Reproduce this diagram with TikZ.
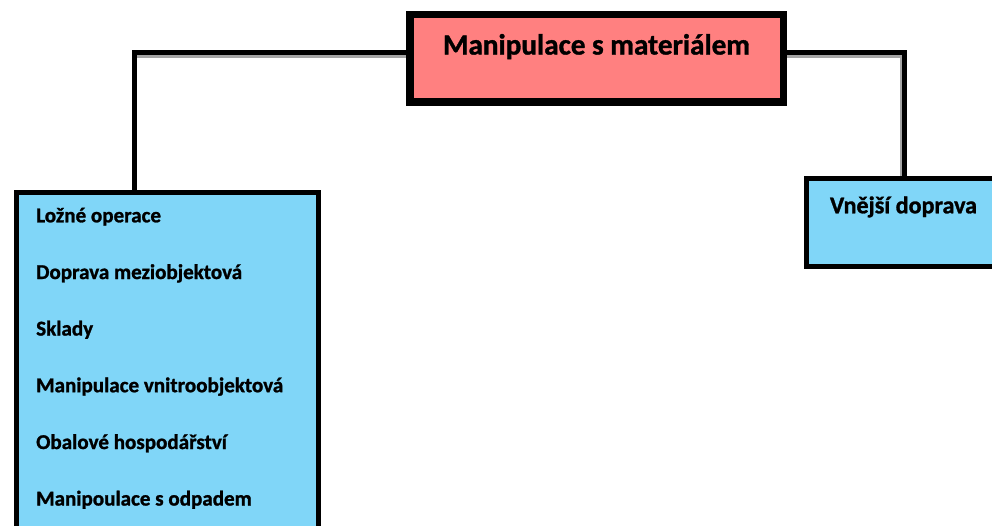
\documentclass[tikz,border=0pt]{standalone}
\usepackage{fontspec}
\setmainfont{Carlito}[BoldFeatures={FakeBold=1.2}]
\definecolor{rootpink}{RGB}{255,128,128}
\definecolor{leafblue}{RGB}{128,214,248}
\definecolor{shadowgray}{RGB}{165,165,165}
% font size (in pt) that sets a bold sample text to a given width
\newlength\samplewd
\newcommand\fitsize[3]{%
  \settowidth\samplewd{\bfseries\fontsize{10}{12}\selectfont #3}%
  \pgfmathsetmacro#1{10*#2/\samplewd}%
  \global\let#1#1}
\begin{document}
\fitsize\titlesize{307}{Manipulace s materiálem}%
\fitsize\itemsize{247}{Manipulace vnitroobjektová}%
\fitsize\sidesize{147}{Vnější doprava}%
\begin{tikzpicture}[x=1pt,y=-1pt,
  box/.style={draw=black,line width=5pt,rectangle,inner sep=0pt},
  rootbox/.style={box,fill=rootpink,minimum width=371pt,minimum height=85pt},
  leafbox/.style={box,fill=leafblue},
  item/.style={anchor=base west,inner sep=0pt,font=\bfseries\fontsize{\itemsize}{\itemsize}\selectfont},
  sidetitle/.style={anchor=base,inner sep=0pt,font=\bfseries\fontsize{\sidesize}{\sidesize}\selectfont},
  title/.style={anchor=base,inner sep=0pt,font=\bfseries\fontsize{\titlesize}{\titlesize}\selectfont},
  link/.style={line width=5pt,line cap=rect},
  shade/.style={line width=3pt,shadowgray}]
\useasboundingbox (0,0) rectangle (992,525);
\clip (0,0) rectangle (992,525);

% boxes
\node[rootbox] (root) at (596.5,58) {};
\node[leafbox,minimum width=301.5pt,minimum height=360pt,anchor=north west] (inner) at (14,190) {};
\node[leafbox,minimum width=200pt,minimum height=88pt,anchor=north west] (outer) at (803.5,176) {};

% junction corners
\coordinate (jl) at (134,52);
\coordinate (jr) at (904,52);

% shadows under the horizontal links
\draw[shade] ([yshift=-4pt]root.west |- jl) -- ([yshift=-4pt]jl);
\draw[shade] ([yshift=-4pt]root.east |- jr) -- ([yshift=-4pt]jr);
\draw[shade,line width=2pt] ([xshift=-3pt,yshift=-4pt]jr) -- ([xshift=-3pt]outer.north -| jr);

% links
\draw[link] (root.west |- jl) -- (jl) -- (inner.north -| jl);
\draw[link] (root.east |- jr) -- (jr) -- (outer.north -| jr);

% redraw the root border over the link ends
\draw[line width=5pt] (root.north west) rectangle (root.south east);

% labels
\node[title] (roottxt) at (596.5,54.5) {Manipulace s materiálem};
\node[sidetitle] (outertxt) at (903.5,213.3) {Vnější doprava};

\node[item] (i1) at (36,222.3) {Ložné operace};
\node[item] (i2) at (36,279) {Doprava meziobjektová};
\node[item] (i3) at (36,335.5) {Sklady};
\node[item] (i4) at (36,392.2) {Manipulace vnitroobjektová};
\node[item] (i5) at (36,449) {Obalové hospodářství};
\node[item] (i6) at (36,505.5) {Manipoulace s odpadem};
\end{tikzpicture}
\end{document}
